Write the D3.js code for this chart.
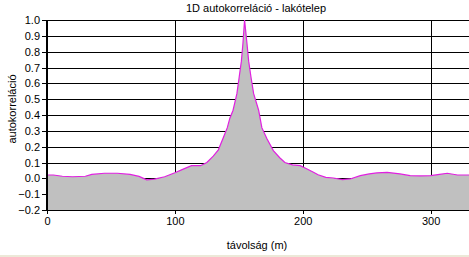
<!DOCTYPE html>
<html>
<head>
<meta charset="utf-8">
<script src="https://cdn.jsdelivr.net/npm/d3@7"></script>
<style>
  body { margin: 0; background: #fff; }
  svg { display: block; font-family: Arial, "Liberation Sans", sans-serif; }
</style>
</head>
<body>
<svg width="469" height="257"></svg>
<script>
var width = 469;
var height = 257;

// distance (m) and autocorrelation
var distances = [0, 5, 12, 20, 30, 35, 45, 55, 65, 72, 78, 84, 92, 100, 107, 113, 120, 125, 130, 134,
                 138, 141, 143, 145.5, 148.5, 150.3, 152, 153.2, 154.5, 156.4, 157.7, 159.5, 161.6, 165.5, 168, 172,
                 177, 182, 186, 192, 198, 203, 208, 212, 218, 224, 231, 237, 245, 252,
                 258, 266, 276, 284, 292, 300, 307, 313, 321, 330];
var autocorr = [0.021, 0.021, 0.013, 0.010, 0.013, 0.025, 0.032, 0.032, 0.025, 0.012, -0.010, -0.005, 0.010, 0.035, 0.06, 0.08, 0.08, 0.10, 0.14, 0.18,
                0.26, 0.32, 0.38, 0.43, 0.535, 0.64, 0.74, 0.85, 1.0, 0.85, 0.74, 0.64, 0.535, 0.43, 0.32, 0.25,
                0.175, 0.13, 0.10, 0.085, 0.08, 0.06, 0.04, 0.023, 0.006, 0.002, -0.008, -0.004, 0.017, 0.028,
                0.034, 0.038, 0.028, 0.017, 0.015, 0.017, 0.025, 0.032, 0.021, 0.021];
var yTicks = [-0.2, -0.1, 0.0, 0.1, 0.2, 0.3, 0.4, 0.5, 0.6, 0.7, 0.8, 0.9, 1.0];
var xTicks = [0, 100, 200, 300];

var data = distances.map((d, i) => ({ x: d, y: autocorr[i] }));

var plotLeft = 47, plotRight = 469, plotTop = 20, plotBottom = 210;

var xScale = d3.scaleLinear()
                .domain([0, 330])
                .range([plotLeft, plotRight]);

var yScale = d3.scaleLinear()
                .domain([-0.2, 1.0])
                .range([plotBottom, plotTop]);

var svg = d3.select("svg");

svg.append("rect")
    .attr("width", width)
    .attr("height", height)
    .attr("fill", "#fff");

svg.append("rect")
    .attr("y", 255)
    .attr("width", width)
    .attr("height", 2)
    .attr("fill", "#ece9d8");

// gridlines
svg.append("g")
    .attr("transform", `translate(${plotLeft},0)`)
    .call(d3.axisLeft(yScale).tickValues(yTicks).tickSize(-(plotRight - plotLeft)).tickFormat(""))
    .call(g => g.select(".domain").remove())
    .selectAll("line")
      .attr("stroke", "#000")
      .attr("shape-rendering", "crispEdges");

svg.append("g")
    .attr("transform", `translate(0,${plotBottom})`)
    .call(d3.axisBottom(xScale).tickValues(xTicks.slice(1)).tickSize(-(plotBottom - plotTop)).tickFormat(""))
    .call(g => g.select(".domain").remove())
    .selectAll("line")
      .attr("stroke", "#000")
      .attr("shape-rendering", "crispEdges");

var area = d3.area()
    .x(d => xScale(d.x))
    .y0(yScale(-0.2))
    .y1(d => yScale(d.y));

var line = d3.line()
    .x(d => xScale(d.x))
    .y(d => yScale(d.y));

svg.append("path")
    .datum(data)
    .attr("d", area)
    .attr("fill", "#c0c0c0");

svg.append("path")
    .datum(data)
    .attr("d", line)
    .attr("fill", "none")
    .attr("stroke", "#e020e0")
    .attr("stroke-width", 1.2);

// axes
var yAxis = svg.append("g")
    .attr("transform", `translate(${plotLeft},0)`)
    .call(d3.axisLeft(yScale).tickValues(yTicks).tickSize(5).tickPadding(2).tickFormat(d3.format(".1f")));
yAxis.select(".domain").remove();
yAxis.selectAll("line").attr("stroke", "#000").attr("shape-rendering", "crispEdges");
yAxis.selectAll("text").attr("font-size", 11).attr("fill", "#000")
    .attr("font-family", "Arial, 'Liberation Sans', sans-serif");

svg.append("line")
    .attr("x1", plotLeft).attr("x2", plotLeft)
    .attr("y1", plotTop).attr("y2", plotBottom)
    .attr("stroke", "#000")
    .attr("stroke-width", 2);

var xAxis = svg.append("g")
    .attr("transform", `translate(0,${plotBottom})`)
    .call(d3.axisBottom(xScale).tickValues(xTicks).tickSize(4).tickPadding(3));
xAxis.select(".domain").remove();
xAxis.selectAll("line").attr("stroke", "#000").attr("shape-rendering", "crispEdges");
xAxis.selectAll("text").attr("font-size", 11).attr("fill", "#000")
    .attr("font-family", "Arial, 'Liberation Sans', sans-serif");

// titles
svg.append("text")
    .attr("x", 256)
    .attr("y", 12)
    .attr("text-anchor", "middle")
    .attr("font-size", 11)
    .text("1D autokorreláció - lakótelep");

svg.append("text")
    .attr("x", 257)
    .attr("y", 249)
    .attr("text-anchor", "middle")
    .attr("font-size", 11)
    .text("távolság (m)");

svg.append("text")
    .attr("transform", "translate(16,109) rotate(-90)")
    .attr("text-anchor", "middle")
    .attr("font-size", 11)
    .text("autokorreláció");
</script>
</body>
</html>
